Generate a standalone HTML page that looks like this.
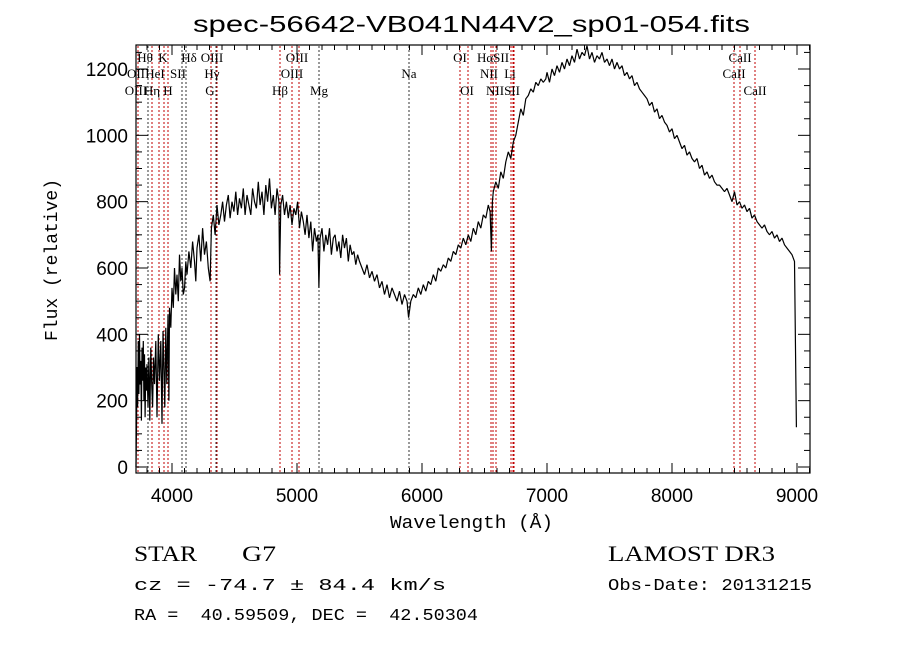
<!DOCTYPE html>
<html><head><meta charset="utf-8"><style>
body{margin:0;background:#fff}
svg{display:block}
text{font-family:"Liberation Sans",sans-serif;fill:#000;white-space:pre}
.lbl{font-family:"Liberation Serif",serif;font-size:13px}
.serif{font-family:"Liberation Serif",serif}
.mono{font-family:"Liberation Mono",monospace}
</style></head><body>
<svg id="chart" width="900" height="649" viewBox="0 0 900 649">
<text x="193" y="32" font-size="23" textLength="557" lengthAdjust="spacingAndGlyphs">spec-56642-VB041N44V2_sp01-054.fits</text>
<g id="lines"></g>
<g id="ticks"></g>
<path id="spec" fill="none" stroke="#000" stroke-width="1.2" stroke-linejoin="bevel"/>
<rect x="136" y="45" width="674" height="428" fill="none" stroke="#000" stroke-width="1.2"/>
<text class="mono" font-size="18" transform="translate(57,260) rotate(-90)" text-anchor="middle">Flux (relative)</text>
<text class="mono" font-size="18" x="390" y="528" textLength="163" lengthAdjust="spacingAndGlyphs">Wavelength (Å)</text>
<text class="serif" x="134" y="561" font-size="22" textLength="63" lengthAdjust="spacingAndGlyphs">STAR</text>
<text class="serif" x="242" y="561" font-size="22" textLength="34" lengthAdjust="spacingAndGlyphs">G7</text>
<text class="serif" x="608" y="561" font-size="22" textLength="167" lengthAdjust="spacingAndGlyphs">LAMOST DR3</text>
<text class="mono" x="134" y="590" font-size="17" textLength="312" lengthAdjust="spacingAndGlyphs">cz = -74.7 ± 84.4 km/s</text>
<text class="mono" x="608" y="590" font-size="17" textLength="204" lengthAdjust="spacingAndGlyphs">Obs-Date: 20131215</text>
<text class="mono" x="134" y="620" font-size="17" textLength="344" lengthAdjust="spacingAndGlyphs">RA =  40.59509, DEC =  42.50304</text>
</svg>
<script>
const NS="http://www.w3.org/2000/svg";
const waveBlue=[3712,3716,3720,3725,3730,3735,3740,3745,3750,3755,3760,3765,3770,3775,3780,3785,3790,3795,3800,3808,3815,3822,3830,3838,3845,3852,3860,3870,3880,3890,3900,3910,3920,3928,3935,3942,3950,3958,3968,3975,3980,3990,4000,4010,4020,4030,4040,4050,4060,4070,4080,4090,4101,4110,4120,4135,4150,4165,4180,4190,4200,4215,4230,4245,4260,4275,4290,4305,4315,4330,4345,4360,4375,4390,4405,4420,4435,4450,4465,4480,4495,4510,4525,4540,4555,4570,4585,4600,4615,4630,4645,4660,4675,4690,4705,4720,4735,4750,4765,4780,4795,4810,4825,4840,4855,4861,4870,4885,4900,4915,4930,4945,4960,4975,4990,5005,5020,5035,5050,5065,5080,5095,5110,5125,5140,5155,5167,5175,5185,5200,5215,5230,5245,5260,5275,5290,5305,5320,5335,5350,5365,5380,5395,5410,5425,5440,5455,5470,5485,5500,5520,5540,5560,5580,5600,5620,5640,5660,5680,5700,5720,5740,5760,5780,5800,5820,5840,5860,5880,5893,5910,5930,5950,5970,5990,6010,6030,6050,6070,6090,6110,6130,6150,6170,6190,6210,6230,6250,6270,6290,6310,6330,6350,6370,6390,6410,6430,6450,6470,6490,6510,6530,6545,6555,6563];
const fluxBlue=[0,120,300,180,380,220,400,250,320,140,360,260,380,200,340,150,300,230,310,180,330,140,360,240,180,330,250,380,150,400,260,380,130,410,300,180,420,250,460,200,480,420,540,480,600,520,580,500,640,560,600,520,540,620,580,650,600,680,620,560,660,700,620,720,640,680,600,560,720,760,700,790,730,760,800,740,790,820,750,800,770,830,760,810,780,840,760,820,790,760,840,800,780,860,790,830,760,850,800,870,780,820,760,840,800,580,790,820,760,800,750,790,730,780,760,800,720,770,740,700,760,690,740,650,720,680,700,540,690,720,650,700,670,720,640,690,700,650,680,630,700,660,690,620,670,640,650,610,640,620,600,580,610,570,590,560,580,540,560,520,550,510,540,520,500,530,490,520,500,450,500,520,510,540,520,550,530,560,550,580,560,600,590,610,600,630,620,650,640,670,660,690,670,700,680,720,700,740,720,760,750,790,770,650];
const waveRed=[6570,6590,6610,6630,6650,6670,6690,6710,6730,6750,6770,6790,6810,6830,6850,6870,6890,6910,6930,6950,6970,6990,
7000,7020,7040,7060,7080,7100,7120,7140,7160,7180,
7200,7220,7240,7260,7280,7300,7320,7340,7360,7380,
7400,7420,7440,7460,7480,7500,7520,7540,7560,7580,
7600,7620,7640,7660,7680,7700,7720,7740,7760,7780,
7800,7820,7840,7860,7880,7900,7920,7940,7960,7980,
8000,8020,8040,8060,8080,8100,8120,8140,8160,8180,
8200,8220,8240,8260,8280,8300,8320,8340,8360,8380,
8400,8420,8440,8460,8480,8500,8520,8540,8560,8580,
8600,8620,8640,8660,8680,8700,8720,8740,8760,8780,
8800,8820,8840,8860,8880,8900,8920,8940,8960,8980,8995,9000];
const fluxRed=[800,830,860,840,890,870,920,950,930,980,1000,1040,1080,1060,1110,1120,1140,1130,1160,1150,1170,1160,
1170,1190,1160,1200,1180,1210,1190,1220,1200,1230,
1210,1240,1220,1260,1230,1250,1240,1270,1230,1250,
1220,1240,1230,1250,1220,1230,1210,1230,1200,1220,
1200,1210,1180,1190,1170,1180,1150,1160,1140,1130,
1120,1110,1090,1100,1070,1080,1050,1060,1040,1030,
1010,1020,990,1000,980,960,970,940,950,930,
920,930,900,910,880,890,870,880,860,850,
850,840,830,840,820,800,830,790,800,780,
790,770,780,750,760,740,730,720,730,710,
700,710,690,700,680,690,670,660,650,640,620,120];
const lineWave=[3728,3808,3840,3896,3936,3968,4080,4112,4312,4352,4360,4864,4960,5016,5176,5896,6304,6368,6552,6568,6592,6712,6728,6736,8496,8544,8664];
const lineRed=[1,0,1,1,1,1,0,0,1,0,1,1,1,1,0,0,1,1,1,1,1,1,1,1,1,1,1];
const labels=[["Hθ",145,1],["K",163,1],["Hδ",189,1],["OIII",212,1],["OIII",297,1],["OI",460,1],["HαSII",493,1],["CaII",740,1],
["OII",136,2],["HeI",155,2],["SII",178,2],["Hγ",212,2],["OIII",292,2],["Na",409,2],["NII",489,2],["Li",510,2],["CaII",734,2],
["OIII",136,3],["Hη",152,3],["H",168,3],["G",210,3],["Hβ",280,3],["Mg",319,3],["OI",467,3],["NIISII",503,3],["CaII",755,3]];
const xTicks=[4000,5000,6000,7000,8000,9000];
const yTicks=[0,200,400,600,800,1000,1200];
const X=w=>172+(w-4000)*0.125;
const Y=f=>467-f*0.33167;
const wave=waveBlue.concat(waveRed), flux=fluxBlue.concat(fluxRed);
let d="";
const n=Math.min(wave.length,flux.length);
for(let i=0;i<n;i++){d+=(i?"L":"M")+X(wave[i]).toFixed(1)+","+Y(flux[i]).toFixed(1);}
document.getElementById('spec').setAttribute('d',d);
const gl=document.getElementById('lines');
lineWave.forEach((w,i)=>{
 const l=document.createElementNS(NS,'line');
 
 
 l.setAttribute('x1',X(w));l.setAttribute('x2',X(w));l.setAttribute('y1',46);l.setAttribute('y2',472);
 l.setAttribute('stroke',lineRed[i]?'#c00000':'#333');l.setAttribute('stroke-dasharray','2,2');l.setAttribute('stroke-width','1');
 gl.appendChild(l);
});
labels.forEach(a=>{
 const t=document.createElementNS(NS,'text');
 
 
 t.setAttribute('class','lbl');t.setAttribute('x',a[1]);t.setAttribute('y',[0,62,78,95][a[2]]);
 t.setAttribute('text-anchor','middle');t.textContent=a[0];gl.appendChild(t);
});
const gt=document.getElementById('ticks');
function ln(x1,y1,x2,y2){const l=document.createElementNS(NS,'line');
 
 
 l.setAttribute('x1',x1);l.setAttribute('y1',y1);l.setAttribute('x2',x2);l.setAttribute('y2',y2);l.setAttribute('stroke','#000');gt.appendChild(l);}
for(let w=3800;w<=9100;w+=100){const x=X(w),L=(w%1000==0)?10:5;ln(x,473,x,473-L);ln(x,45,x,45+L);}
for(let f=0;f<=1250;f+=50){const y=Y(f),L=(f%200==0)?12:6;ln(136,y,136+L,y);ln(810,y,810-L,y);}
xTicks.forEach(w=>{const t=document.createElementNS(NS,'text');
 
 
 t.setAttribute('x',X(w));t.setAttribute('y',502);t.setAttribute('font-size','19');t.setAttribute('text-anchor','middle');t.textContent=w;gt.appendChild(t);});
yTicks.forEach(f=>{const t=document.createElementNS(NS,'text');
 
 
 t.setAttribute('x',128);t.setAttribute('y',Y(f)+7);t.setAttribute('font-size','19');t.setAttribute('text-anchor','end');t.textContent=f;gt.appendChild(t);});
</script>
</body></html>
